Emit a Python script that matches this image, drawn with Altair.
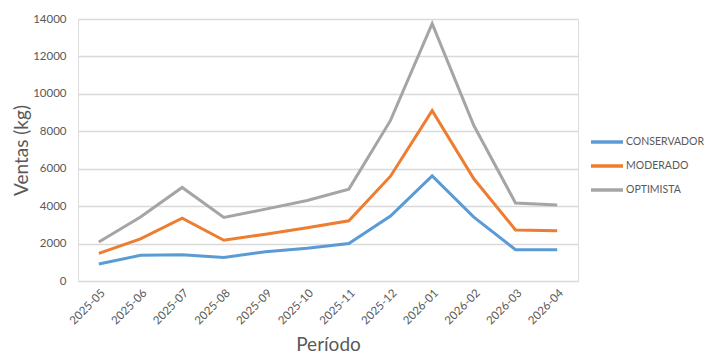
import altair as alt
import pandas as pd

periods = ["2025-05", "2025-06", "2025-07", "2025-08", "2025-09", "2025-10",
           "2025-11", "2025-12", "2026-01", "2026-02", "2026-03", "2026-04"]
conservador = [910, 1370, 1400, 1260, 1560, 1750, 2000, 3470, 5620, 3410, 1670, 1670]
moderado = [1480, 2250, 3360, 2180, 2500, 2840, 3220, 5600, 9100, 5460, 2730, 2690]
optimista = [2080, 3420, 5000, 3400, 3840, 4300, 4910, 8580, 13750, 8310, 4170, 4060]
series = ["CONSERVADOR", "MODERADO", "OPTIMISTA"]
colors = ["#5B9BD5", "#ED7D31", "#A5A5A5"]

rows = []
for name, vals in zip(series, [conservador, moderado, optimista]):
    for p, v in zip(periods, vals):
        rows.append({"Período": p, "Ventas": v, "Escenario": name})
df = pd.DataFrame(rows)

FONT = "Lato"
TXT = "#595959"

chart = alt.Chart(df).mark_line(strokeWidth=3, strokeJoin="miter").encode(
    x=alt.X("Período:N", sort=periods,
            scale=alt.Scale(type="point", padding=0.5),
            axis=alt.Axis(title="Período", labelAngle=-45, labelFontSize=11.5,
                          labelColor=TXT, labelFont=FONT, ticks=False,
                          domain=True, domainColor="#D9D9D9", labelPadding=6,
                          titleFont=FONT, titleFontSize=19, titleColor=TXT,
                          titleFontWeight="normal", titlePadding=9, grid=False)),
    y=alt.Y("Ventas:Q", scale=alt.Scale(domain=[0, 14000], nice=False),
            axis=alt.Axis(title="Ventas (kg)", values=list(range(0, 14001, 2000)),
                          format="d", labelFontSize=11.5, labelColor=TXT,
                          labelFont=FONT, ticks=False, domain=False,
                          labelPadding=12, gridColor="#D9D9D9", gridWidth=1.3,
                          titleFont=FONT, titleFontSize=19, titleColor=TXT,
                          titleFontWeight="normal", titlePadding=1)),
    color=alt.Color("Escenario:N", sort=series,
                    scale=alt.Scale(domain=series, range=colors),
                    legend=alt.Legend(title=None, orient="none", legendX=519,
                                      legendY=113, symbolType="M-2,0L2,0",
                                      symbolSize=256, symbolStrokeWidth=3.5,
                                      symbolFillColor="transparent",
                                      labelFont=FONT, labelFontSize=10.5,
                                      labelColor=TXT, rowPadding=7,
                                      labelOffset=9, labelLimit=0)),
).properties(
    width=500, height=262,
    autosize=alt.AutoSizeParams(type="none"),
    padding={"left": 78, "top": 19, "right": 130, "bottom": 77},
).configure_view(stroke=None).configure(background="white")

chart.save("out.html", embed_options={"renderer": "svg", "actions": False})
